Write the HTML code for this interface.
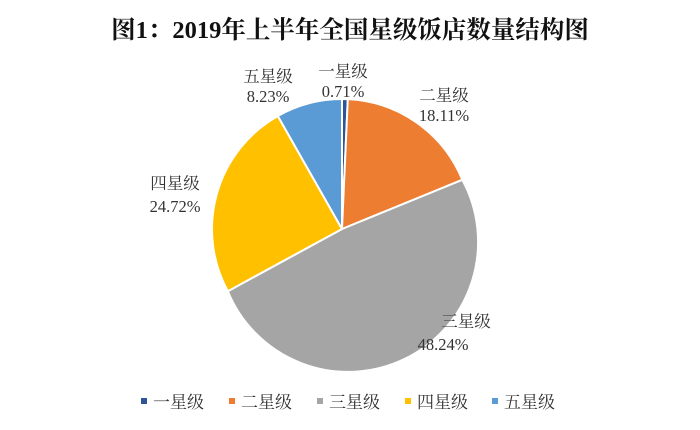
<!DOCTYPE html>
<html><head><meta charset="utf-8"><style>
html,body{margin:0;padding:0;background:#fff;}
svg{display:block;}
text{font-family:"Liberation Serif","Noto Serif CJK SC",serif;fill:#333;}
</style></head><body>
<svg width="700" height="430" viewBox="0 0 700 430" xmlns="http://www.w3.org/2000/svg">
<text x="350" y="38" text-anchor="middle" font-size="24.5" font-weight="bold" style="fill:#111">图1：2019年上半年全国星级饭店数量结构图</text>
<g stroke="#fff" stroke-width="2" stroke-linejoin="round">
<path d="M342 229 L342 99 A130 130 0 0 1 347.8 99.1 Z" fill="#2F5597"/>
<path d="M342 229 L347.8 99.1 A130 130 0 0 1 462.3 179.8 Z" fill="#ED7D31"/>
<path d="M342 229 L462.3 179.8 A130 130 0 1 1 227.8 291.2 Z" fill="#A5A5A5"/>
<path d="M342 229 L227.8 291.2 A130 130 0 0 1 277.8 116.0 Z" fill="#FFC000"/>
<path d="M342 229 L277.8 116.0 A130 130 0 0 1 342 99 Z" fill="#5B9BD5"/>
</g>
<g font-size="16.5" text-anchor="middle">
<text x="268" y="82">五星级</text><text x="268" y="102">8.23%</text>
<text x="343" y="77">一星级</text><text x="343" y="97">0.71%</text>
<text x="444" y="101">二星级</text><text x="444" y="121">18.11%</text>
<text x="175" y="189">四星级</text><text x="175" y="212">24.72%</text>
<text x="466" y="327">三星级</text><text x="443" y="350">48.24%</text>
</g>
<g font-size="17">
<rect x="141" y="398" width="6" height="6" fill="#2F5597"/><text x="153" y="408">一星级</text>
<rect x="229" y="398" width="6" height="6" fill="#ED7D31"/><text x="241" y="408">二星级</text>
<rect x="317" y="398" width="6" height="6" fill="#A5A5A5"/><text x="329" y="408">三星级</text>
<rect x="405" y="398" width="6" height="6" fill="#FFC000"/><text x="417" y="408">四星级</text>
<rect x="492" y="398" width="6" height="6" fill="#5B9BD5"/><text x="504" y="408">五星级</text>
</g>
</svg>
</body></html>
